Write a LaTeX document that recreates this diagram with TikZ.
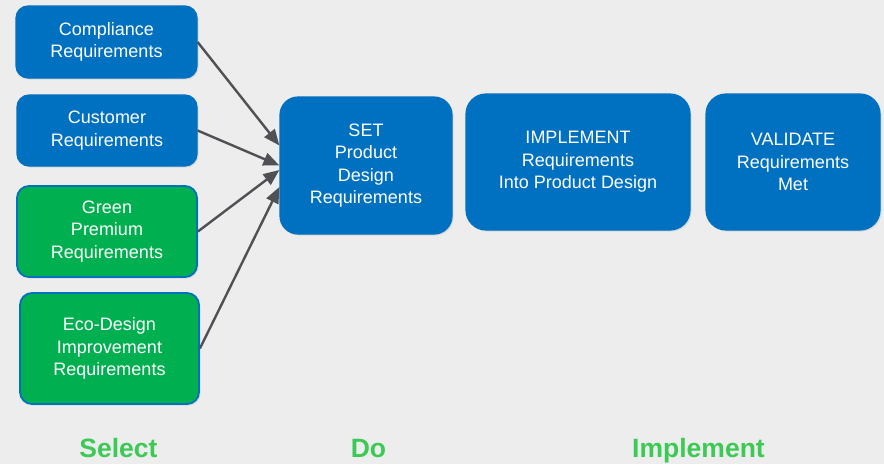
\documentclass[tikz,border=0pt]{standalone}
\usepackage{fontspec}
\setmainfont{Liberation Sans}
\usetikzlibrary{arrows.meta,shadows}
\definecolor{bgc}{HTML}{EDEDED}
\definecolor{boxblue}{HTML}{0070C0}
\definecolor{boxgreen}{HTML}{00B050}
\definecolor{arrowc}{HTML}{505055}
\definecolor{labgreen}{HTML}{3DC955}
\tikzset{
  box/.style={rounded corners=12pt, fill=boxblue, draw=boxblue, line width=1.2pt,
    text=white, align=center, font=\fontsize{18}{22.5}\selectfont,
    drop shadow={opacity=0.18, shadow xshift=1.5pt, shadow yshift=-1.5pt}},
  gbox/.style={box, fill=boxgreen, draw=boxblue, line width=1.8pt},
  arr/.style={draw=arrowc, line width=2.4pt, -{Triangle[length=16pt,width=13pt]}},
  lab/.style={anchor=base, text=labgreen, inner sep=0pt,
    font=\fontsize{26.5}{30}\selectfont\bfseries}
}
\begin{document}
\begin{tikzpicture}[x=1pt,y=-1pt]
\useasboundingbox (0,0) rectangle (884,464);
\fill[bgc] (0,0) rectangle (884,464);
\node[box, minimum width=181pt, minimum height=72pt] (comp) at (106.5,42) {Compliance\\Requirements};
\node[box, minimum width=180pt, minimum height=71pt] (cust) at (107,130.5) {Customer\\Requirements};
\node[gbox, minimum width=180pt, minimum height=91pt] (green) at (107,231.5) {Green\\Premium\\Requirements};
\node[gbox, minimum width=179pt, minimum height=111pt] (eco) at (109.5,348.5) {Eco-Design\\Improvement\\Requirements};
\node[box, rounded corners=18pt, minimum width=172pt, minimum height=137pt] (set) at (366,165.5) {SET\\Product\\Design\\Requirements};
\node[box, rounded corners=20pt, minimum width=224pt, minimum height=136pt] (impl) at (578,162) {IMPLEMENT\\Requirements\\Into Product Design};
\node[box, rounded corners=20pt, minimum width=174pt, minimum height=136pt] (val) at (793,162) {VALIDATE\\Requirements\\Met};
\draw[arr] (comp.east) -- ([yshift=20pt]set.west);
\draw[arr] (cust.east) -- (set.west);
\draw[arr] (green.east) -- ([yshift=-4.5pt]set.west);
\draw[arr] (eco.east) -- ([yshift=-21.5pt]set.west);
\node[lab] (sel) at (118.5,457.5) {Select};
\node[lab] (do) at (368.5,457.5) {Do};
\node[lab] (imp) at (698.5,457.5) {Implement};
\end{tikzpicture}
\end{document}
